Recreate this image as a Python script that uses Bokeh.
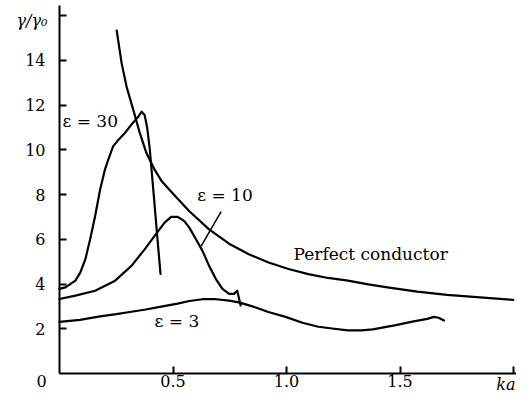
from bokeh.plotting import figure
from bokeh.models import FixedTicker, LinearAxis, Range1d
from bokeh.core.properties import value
from bokeh.embed import file_html
from bokeh.resources import INLINE

FONT = "DejaVu Serif"

# Perfect conductor
pc_ka = [0.252, 0.274, 0.296, 0.325, 0.354, 0.383, 0.419, 0.45, 0.485, 0.572, 0.659, 0.747,
         0.834, 0.921, 1.009, 1.096, 1.183, 1.271, 1.36, 1.445, 1.576, 1.707, 1.838, 1.999]
pc_g = [15.33, 13.85, 12.8, 11.78, 10.74, 9.85, 9.11, 8.6, 8.2, 7.25, 6.44, 5.8,
        5.33, 4.96, 4.67, 4.44, 4.27, 4.15, 3.98, 3.85, 3.66, 3.51, 3.41, 3.29]

# epsilon = 30
e30_ka = [0.0, 0.026, 0.07, 0.092, 0.114, 0.135, 0.157, 0.179, 0.2, 0.215, 0.236, 0.26,
          0.288, 0.323, 0.345, 0.362, 0.375, 0.386, 0.397, 0.415, 0.43, 0.445]
e30_g = [3.78, 3.85, 4.15, 4.52, 5.11, 6.0, 7.04, 8.22, 9.11, 9.56, 10.15, 10.45,
         10.75, 11.2, 11.45, 11.7, 11.55, 11.0, 10.1, 8.0, 6.2, 4.45]

# epsilon = 10
e10_ka = [0.0, 0.07, 0.157, 0.245, 0.317, 0.376, 0.419, 0.463, 0.492, 0.521, 0.55, 0.572,
          0.601, 0.63, 0.659, 0.689, 0.718, 0.747, 0.769, 0.783, 0.798]
e10_g = [3.33, 3.48, 3.7, 4.15, 4.81, 5.56, 6.15, 6.74, 7.0, 7.0, 6.81, 6.52,
         6.0, 5.48, 4.81, 4.22, 3.78, 3.56, 3.56, 3.7, 3.04]

# epsilon = 3
e3_ka = [0.0, 0.09, 0.179, 0.25, 0.31, 0.38, 0.454, 0.52, 0.572, 0.63, 0.68, 0.747, 0.79,
         0.85, 0.92, 0.996, 1.07, 1.14, 1.21, 1.27, 1.33, 1.38, 1.476, 1.56, 1.62, 1.65,
         1.67, 1.694]
e3_g = [2.31, 2.4, 2.55, 2.65, 2.75, 2.86, 3.0, 3.12, 3.24, 3.32, 3.33, 3.26, 3.18,
        3.0, 2.75, 2.53, 2.27, 2.09, 2.0, 1.93, 1.93, 1.97, 2.15, 2.33, 2.44, 2.53,
        2.49, 2.37]

# pointer for eps = 10 label
ptr_ka = [0.712, 0.624]
ptr_g = [7.24, 5.69]

x_ticks = [0.5, 1.0, 1.5, 2.0]
x_tick_labels = {0.5: "0.5", 1.0: "1.0", 1.5: "1.5", 2.0: ""}
y_ticks = [2, 4, 6, 8, 10, 12, 14, 16]
y_tick_labels = {2: "2", 4: "4", 6: "6", 8: "8", 10: "10", 12: "12", 14: "14", 16: ""}

W, H = 516, 394
X0, Y0 = 59, 373          # pixel position of the origin
SX = 227.0                # pixels per unit ka
SY = (Y0 - 15) / 16.0     # pixels per unit gamma (tick 16 at y=15)

p = figure(width=W, height=H,
           x_range=Range1d(-X0 / SX, (W - X0) / SX),
           y_range=Range1d(-(H - Y0) / SY, Y0 / SY),
           x_axis_location=None, y_axis_location=None,
           output_backend="svg", toolbar_location=None, min_border=0)
p.outline_line_color = None
p.xgrid.grid_line_color = None
p.ygrid.grid_line_color = None
p.background_fill_color = "white"
p.border_fill_color = "white"

xa = LinearAxis(fixed_location=0, bounds=(0, (W - X0) / SX),
                ticker=FixedTicker(ticks=x_ticks), major_label_overrides=x_tick_labels,
                major_label_standoff=1)
ya = LinearAxis(fixed_location=0, bounds=(0, (Y0 - 5) / SY),
                ticker=FixedTicker(ticks=y_ticks), major_label_overrides=y_tick_labels,
                major_label_standoff=14)
for ax in (xa, ya):
    ax.axis_line_width = 2
    ax.axis_line_color = "black"
    ax.major_tick_line_width = 2
    ax.major_tick_line_color = "black"
    ax.major_tick_in = 7
    ax.major_tick_out = 0
    ax.minor_tick_line_color = None
    ax.major_label_text_font = FONT
    ax.major_label_text_font_size = "16px"
    ax.major_label_text_color = "black"
p.add_layout(xa, "below")
p.add_layout(ya, "left")

for xs, ys in ((pc_ka, pc_g), (e30_ka, e30_g), (e10_ka, e10_g), (e3_ka, e3_g)):
    p.line(xs, ys, line_color="black", line_width=2.2, line_join="round", line_cap="round")
p.line(ptr_ka, ptr_g, line_color="black", line_width=1.5)

def txt(x, y, s, align="left", style="normal", size="17px", baseline="middle"):
    p.text(x=[x], y=[y], text=[s], text_font=value(FONT), text_font_size=size,
           text_font_style=style, text_align=align, text_baseline=baseline,
           text_color="black")

txt(0.013, 11.29, "ε = 30")
txt(0.729, 8.0, "ε = 10", align="center")
txt(0.419, 2.36, "ε = 3")
txt(1.031, 5.33, "Perfect conductor")
txt(-0.0529, 15.78, "γ/γ₀", align="right", style="italic", size="16px")
txt(-0.0793, -1.0 / SY, "0", align="center", size="16px", baseline="top")
txt(2.0088, -1.0 / SY, "ka", align="right", style="italic", size="16px", baseline="top")

open("out.html", "w").write(file_html(p, INLINE))
